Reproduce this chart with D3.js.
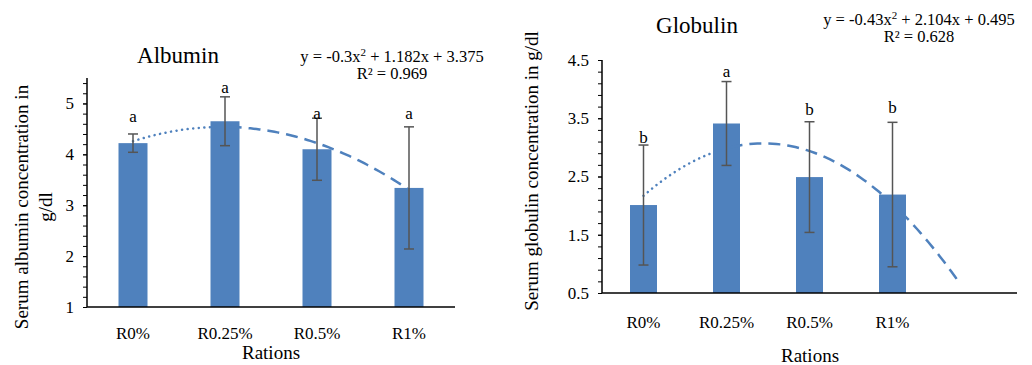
<!DOCTYPE html>
<html>
<head>
<meta charset="utf-8">
<script src="https://cdn.jsdelivr.net/npm/d3@7"></script>
<style>
  body { margin: 0; background: #fff; }
  svg text { font-family: "Liberation Serif", "Times New Roman", serif; fill: #000; }
</style>
</head>
<body>
<div id="chart"></div>
<script>
// ─── Data ───
const categories = ["R0%", "R0.25%", "R0.5%", "R1%"];

const albuminMean    = [4.22, 4.65, 4.10, 3.34];
const albuminErr     = [0.18, 0.48, 0.61, 1.20];
const albuminLetters = ["a", "a", "a", "a"];
const albuminLetterAt = [4.63, 5.20, 4.69, 4.69];
const albuminTrend   = [-0.3, 1.182, 3.375];   // a, b, c
const albuminR2      = "0.969";
const albuminTicks   = [1, 2, 3, 4, 5];

const globulinMean    = [2.01, 3.41, 2.49, 2.19];
const globulinErr     = [1.03, 0.72, 0.95, 1.24];
const globulinLetters = ["b", "a", "b", "b"];
const globulinLetterAt = [3.08, 4.21, 3.56, 3.59];
const globulinTrend   = [-0.43, 2.104, 0.495];
const globulinR2      = "0.628";
const globulinTicks   = [0.5, 1.5, 2.5, 3.5, 4.5];

const W = 1032, H = 365;
const barColor = "#4f81bd";
const errColor = "#555555";
const serif = "'Liberation Serif', 'Times New Roman', serif";

const svg = d3.select("#chart").append("svg")
  .attr("width", W).attr("height", H)
  .attr("font-family", serif);
svg.append("rect").attr("width", W).attr("height", H).attr("fill", "#fff");

function drawPanel(o) {
  const g = svg.append("g");
  const x = d3.scaleBand().domain(d3.range(o.nBands)).range([o.left, o.right]);
  const bw = x.bandwidth();
  const cx = i => x(i) + bw / 2;
  // continuous x for trendline (1-based category index)
  const xl = d3.scaleLinear().domain([1, 2]).range([cx(0), cx(1)]);
  const y = d3.scaleLinear().domain(o.yDomain).range([o.bottom, o.top]);

  // bars
  g.selectAll(".bar").data(o.mean).enter().append("rect")
    .attr("x", (d, i) => cx(i) - o.barW / 2)
    .attr("y", d => y(d))
    .attr("width", o.barW)
    .attr("height", d => o.bottom - y(d))
    .attr("fill", barColor);

  // trendline: dotted first stretch, dashed after
  const [a, b, c] = o.trend;
  const f = t => a * t * t + b * t + c;
  const line = d3.line().x(t => xl(t)).y(t => y(f(t)));
  const seg = (t0, t1) => d3.range(0, 61).map(k => t0 + (t1 - t0) * k / 60);
  g.append("path").attr("d", line(seg(1, 1.95)))
    .attr("fill", "none").attr("stroke", barColor)
    .attr("stroke-width", 2.5).attr("stroke-linecap", "round")
    .attr("stroke-dasharray", "0.1 5.5");
  g.append("path").attr("d", line(seg(2.05, o.trendEnd)))
    .attr("fill", "none").attr("stroke", barColor)
    .attr("stroke-width", 2.5)
    .attr("stroke-dasharray", "12 7");

  // error bars
  o.mean.forEach((m, i) => {
    const e = o.err[i], px = cx(i);
    g.append("line").attr("x1", px).attr("x2", px)
      .attr("y1", y(m - e)).attr("y2", y(m + e))
      .attr("stroke", errColor).attr("stroke-width", 1.5);
    [m - e, m + e].forEach(v => {
      g.append("line").attr("x1", px - 5).attr("x2", px + 5)
        .attr("y1", y(v)).attr("y2", y(v))
        .attr("stroke", errColor).attr("stroke-width", 1.5);
    });
  });

  // significance letters
  g.selectAll(".let").data(o.letters).enter().append("text")
    .attr("x", (d, i) => cx(i))
    .attr("y", (d, i) => y(o.letterAt[i]))
    .attr("text-anchor", "middle")
    .attr("font-size", 17)
    .text(d => d);

  // y axis with minor ticks
  const minor = d3.range(o.yDomain[0], o.yDomain[1] + 1e-9, 0.2);
  g.append("g").attr("transform", `translate(${o.left},0)`)
    .call(d3.axisLeft(y).tickValues(minor).tickSize(4).tickFormat(""))
    .call(s => s.select(".domain").remove())
    .selectAll("line").attr("stroke", "#000").attr("stroke-width", 1);
  const ya = g.append("g").attr("transform", `translate(${o.left},0)`)
    .call(d3.axisLeft(y).tickValues(o.ticks).tickSize(4).tickPadding(9)
      .tickFormat(d3.format("")));
  ya.attr("font-family", serif).attr("font-size", 17);
  ya.select(".domain").attr("stroke", "#000").attr("stroke-width", 1.5)
    .attr("d", `M0,${o.top}V${o.bottom}`);
  ya.selectAll("line").attr("stroke", "#000");

  // x axis
  g.append("line").attr("x1", o.left).attr("x2", o.right)
    .attr("y1", o.bottom).attr("y2", o.bottom)
    .attr("stroke", "#000").attr("stroke-width", 1.5);
  g.selectAll(".cat").data(categories).enter().append("text")
    .attr("x", (d, i) => cx(i))
    .attr("y", o.catY)
    .attr("text-anchor", "middle")
    .attr("font-size", 17)
    .text(d => d);

  // titles
  g.append("text").attr("x", o.titleX).attr("y", o.titleY)
    .attr("text-anchor", "middle").attr("font-size", 23).text(o.title);
  g.append("text").attr("x", o.xTitleX).attr("y", o.xTitleY)
    .attr("text-anchor", "middle").attr("font-size", 19).text("Rations");

  const yt = g.append("text")
    .attr("transform", `translate(${o.yTitleX},${o.yTitleY}) rotate(-90)`)
    .attr("text-anchor", "middle").attr("font-size", 19);
  o.yTitle.forEach((ln, k) => {
    yt.append("tspan").attr("x", 0).attr("dy", k === 0 ? 0 : 24).text(ln);
  });

  // trend equation
  const eq = g.append("text").attr("x", o.eqX).attr("y", o.eqY)
    .attr("text-anchor", "middle").attr("font-size", 16.5);
  eq.append("tspan").text(`y = ${a < 0 ? "-" : ""}${Math.abs(a)}x`);
  eq.append("tspan").attr("dy", -6).attr("font-size", 11).text("2");
  eq.append("tspan").attr("dy", 6).text(` + ${b}x + ${c}`);
  g.append("text").attr("x", o.eqX).attr("y", o.eqY + 17)
    .attr("text-anchor", "middle").attr("font-size", 16.5)
    .text(`R² = ${o.r2}`);
}

drawPanel({
  left: 87, right: 455, top: 78, bottom: 307, nBands: 4, barW: 29,
  yDomain: [1, 5.5], ticks: albuminTicks,
  mean: albuminMean, err: albuminErr, letters: albuminLetters, letterAt: albuminLetterAt,
  trend: albuminTrend, trendEnd: 4, r2: albuminR2,
  catY: 339, title: "Albumin", titleX: 178, titleY: 63,
  xTitleX: 271, xTitleY: 359,
  yTitle: ["Serum albumin concentration in", "g/dl"], yTitleX: 28, yTitleY: 207,
  eqX: 392, eqY: 62
});

drawPanel({
  left: 602, right: 1017, top: 60, bottom: 293, nBands: 5, barW: 27,
  yDomain: [0.5, 4.5], ticks: globulinTicks,
  mean: globulinMean, err: globulinErr, letters: globulinLetters, letterAt: globulinLetterAt,
  trend: globulinTrend, trendEnd: 4.8, r2: globulinR2,
  catY: 328, title: "Globulin", titleX: 697, titleY: 33,
  xTitleX: 810, xTitleY: 362,
  yTitle: ["Serum globulin concentration in g/dl"], yTitleX: 538, yTitleY: 171,
  eqX: 919, eqY: 25
});

svg.selectAll("text").style("font-family", serif);
</script>
</body>
</html>
